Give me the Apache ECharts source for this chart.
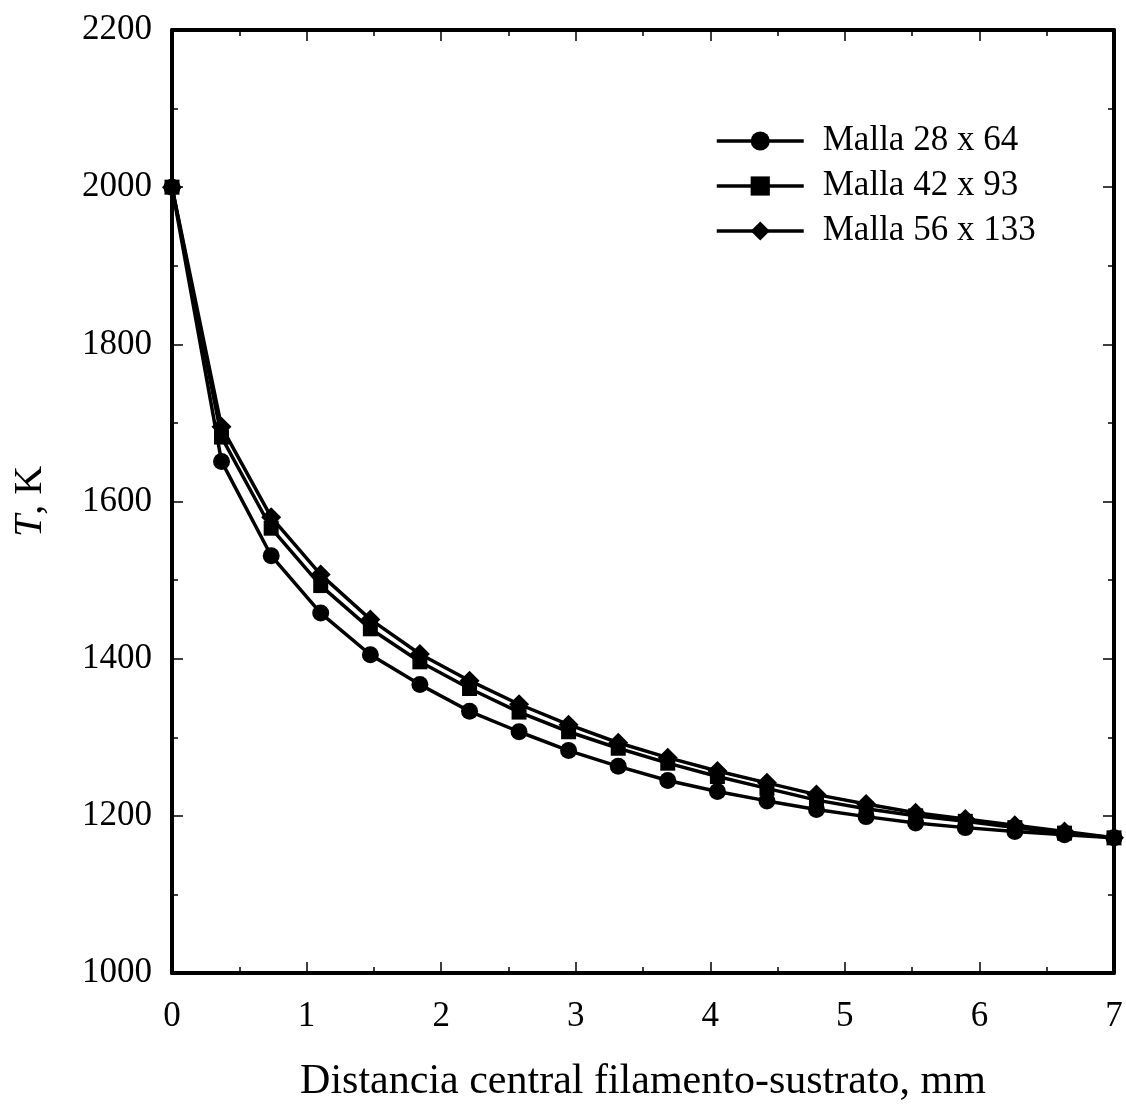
<!DOCTYPE html>
<html><head><meta charset="utf-8">
<script src="https://cdn.jsdelivr.net/npm/echarts@6/dist/echarts.min.js"></script>
<style>html,body{margin:0;padding:0;background:#fff}#c{width:1126px;height:1108px}</style>
</head><body><div id="c"></div>
<script>
const xValues = [0, 0.368, 0.737, 1.105, 1.474, 1.842, 2.211, 2.579, 2.947, 3.316, 3.684, 4.053, 4.421, 4.789, 5.158, 5.526, 5.895, 6.263, 6.632, 7];
const malla28x64 = [2000, 1651, 1531, 1458, 1405, 1367, 1333, 1307, 1283, 1263, 1245, 1231, 1219, 1208, 1199, 1191, 1185, 1180, 1176, 1172];
const malla42x93 = [2000, 1682, 1566, 1493, 1438, 1396, 1362, 1332, 1307, 1286, 1267, 1250, 1235, 1220, 1209, 1200, 1193, 1185, 1178, 1172];
const malla56x133 = [2000, 1695, 1580, 1507, 1450, 1406, 1372, 1342, 1316, 1293, 1274, 1257, 1242, 1227, 1215, 1204, 1196, 1188, 1180, 1172];
const seriesNames = ['Malla 28 x 64', 'Malla 42 x 93', 'Malla 56 x 133'];
const xTitle = 'Distancia central filamento-sustrato, mm';

const font = 'Liberation Serif';
const pair = arr => xValues.map((x, i) => [x, arr[i]]);
const axisLine = { show: true, onZero: false, lineStyle: { color: '#000', width: 4 } };
const tick = { show: true, inside: true, length: 11, lineStyle: { color: '#000', width: 1.5 } };
const minor = { show: true, splitNumber: 2, length: 6, lineStyle: { color: '#000', width: 1.5 } };

const chart = echarts.init(document.getElementById('c'), null, { renderer: 'canvas' });
const mkSeries = (name, data, symbol, size) => ({
  name, type: 'line', data: pair(data), symbol, symbolSize: size,
  lineStyle: { color: '#000', width: 3.5 }, itemStyle: { color: '#000' },
  showAllSymbol: true, animation: false
});
chart.setOption({
  animation: false,
  backgroundColor: '#fff',
  grid: { left: 172, right: 12, top: 30, bottom: 133, containLabel: false },
  legend: {
    orient: 'vertical', left: 715, top: 123, padding: 0,
    itemWidth: 87, itemHeight: 24, itemGap: 9,
    data: seriesNames,
    lineStyle: { width: 3.5, color: '#000' },
    textStyle: { fontFamily: font, fontSize: 35, lineHeight: 36, color: '#000', padding: [0, 0, 0, 14] }
  },
  xAxis: [
    { type: 'value', min: 0, max: 7, interval: 1, position: 'bottom',
      axisLine, axisTick: tick, minorTick: minor, splitLine: { show: false },
      axisLabel: { color: '#000', fontFamily: font, fontSize: 35, margin: 26 },
      name: xTitle, nameLocation: 'middle', nameGap: 88,
      nameTextStyle: { color: '#000', fontFamily: font, fontSize: 42 } },
    { type: 'value', min: 0, max: 7, interval: 1, position: 'top',
      axisLine, axisTick: tick, minorTick: minor, splitLine: { show: false },
      axisLabel: { show: false } }
  ],
  yAxis: [
    { type: 'value', min: 1000, max: 2200, interval: 200, position: 'left',
      axisLine, axisTick: tick, minorTick: minor, splitLine: { show: false },
      axisLabel: { color: '#000', fontFamily: font, fontSize: 35, margin: 20, formatter: v => String(v) },
      name: '{i|T}, K', nameLocation: 'middle', nameGap: 122, nameRotate: 90,
      nameTextStyle: { color: '#000', fontFamily: font, fontSize: 40,
        rich: { i: { fontStyle: 'italic', fontFamily: font, fontSize: 40, color: '#000' } } } },
    { type: 'value', min: 1000, max: 2200, interval: 200, position: 'right',
      axisLine, axisTick: tick, minorTick: minor, splitLine: { show: false },
      axisLabel: { show: false } }
  ],
  series: [
    mkSeries(seriesNames[0], malla28x64, 'circle', 17),
    mkSeries(seriesNames[1], malla42x93, 'rect', 15),
    mkSeries(seriesNames[2], malla56x133, 'diamond', 20)
  ]
});
</script></body></html>
